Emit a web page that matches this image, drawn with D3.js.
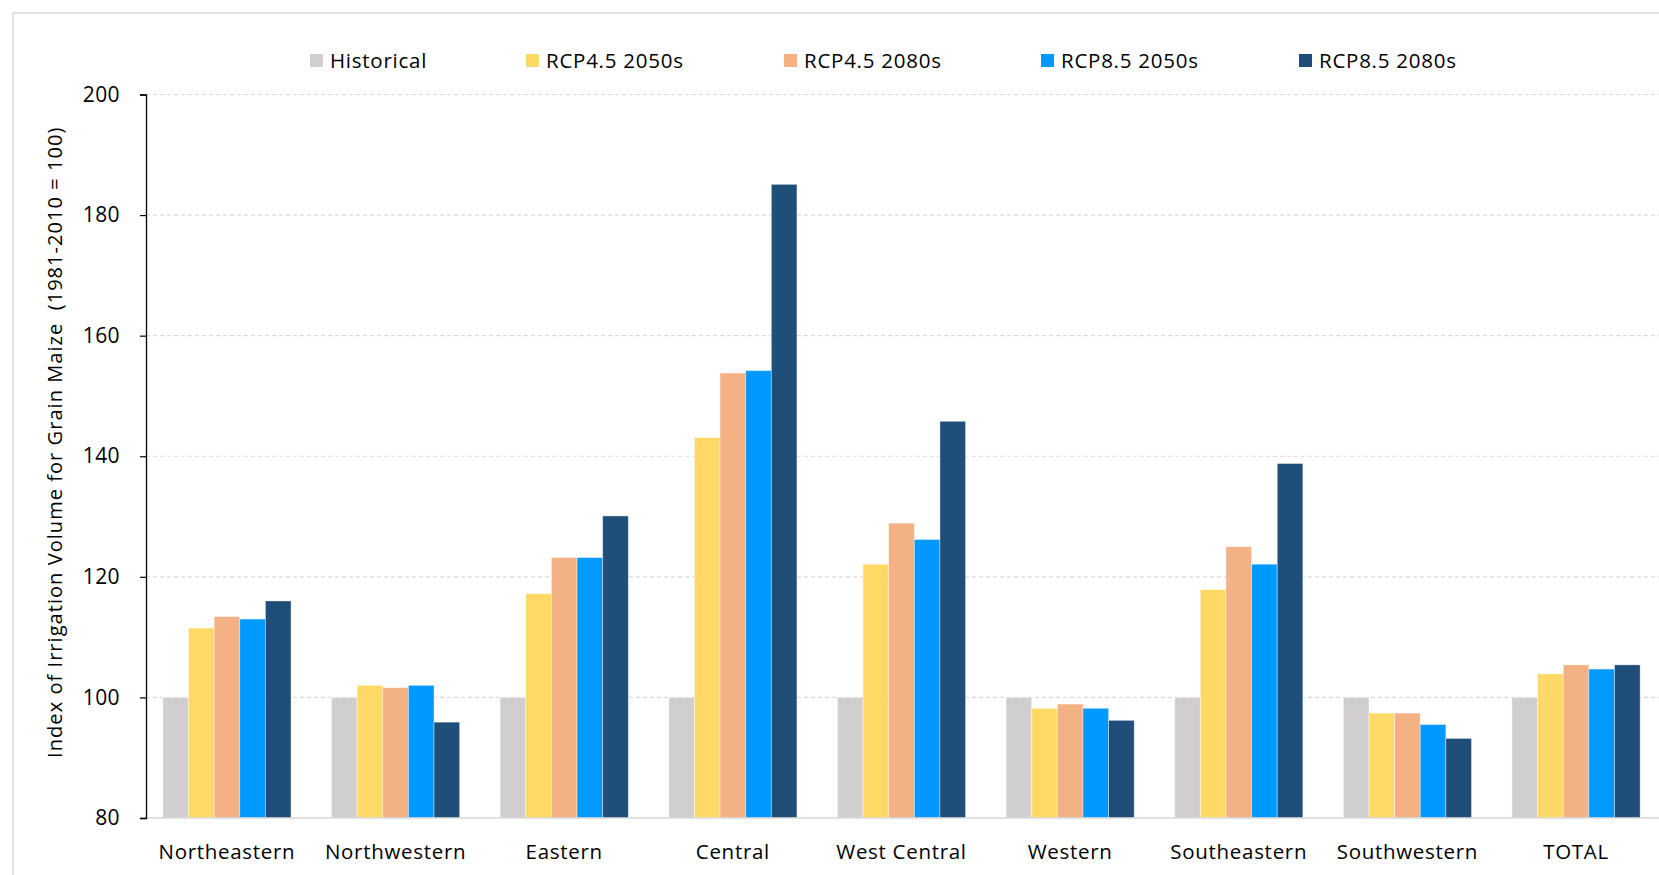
<!DOCTYPE html>
<html><head><meta charset="utf-8">
<script src="https://cdn.jsdelivr.net/npm/d3@7"></script>
<style>
html,body{margin:0;padding:0;background:#fff;}
svg{display:block;font-family:"Open Sans",Lato,sans-serif;}
</style></head>
<body><svg id="c" width="1659" height="875"></svg>
<script>
const categories = ["Northeastern","Northwestern","Eastern","Central","West Central","Western","Southeastern","Southwestern","TOTAL"];
const seriesNames = ["Historical","RCP4.5 2050s","RCP4.5 2080s","RCP8.5 2050s","RCP8.5 2080s"];
const seriesColors = ["#d0cece","#ffd966","#f4b183","#0099ff","#1f4e79"];
const historical = [100,100,100,100,100,100,100,100,100];
const rcp45_2050s = [111.5,102.0,117.2,143.1,122.1,98.2,117.9,97.4,103.9];
const rcp45_2080s = [113.4,101.6,123.2,153.8,128.9,98.9,125.0,97.4,105.4];
const rcp85_2050s = [113.0,102.0,123.2,154.2,126.2,98.2,122.1,95.5,104.7];
const rcp85_2080s = [116.0,95.9,130.1,185.1,145.8,96.2,138.8,93.2,105.4];
const yTicks = [80,100,120,140,160,180,200];
const yTitle = "Index of Irrigation Volume for Grain Maize  (1981-2010 = 100)";

const seriesValues = [historical, rcp45_2050s, rcp45_2080s, rcp85_2050s, rcp85_2080s];

const svg = d3.select("#c");
const mLeft = 146, mRight = 1657, mTop = 94.5, mBottom = 818;
const FONT = "'Open Sans',Lato,sans-serif";

// outer frame
svg.append("rect").attr("x",13).attr("y",13).attr("width",1700).attr("height",900)
  .attr("fill","none").attr("stroke","#d9d9d9").attr("stroke-width",1.5);

const x = d3.scaleBand().domain(categories).range([mLeft,mRight]).paddingInner(0.24).paddingOuter(0.1);
const xs = d3.scaleBand().domain(seriesNames).range([0,x.bandwidth()]).padding(0);
const y = d3.scaleLinear().domain([80,200]).range([mBottom,mTop]);

// gridlines
svg.append("g").selectAll("line").data(yTicks.filter(t=>t>80)).join("line")
  .attr("x1",mLeft).attr("x2",1659).attr("y1",d=>y(d)).attr("y2",d=>y(d))
  .attr("stroke","#d9d9d9").attr("stroke-width",1.2).attr("stroke-dasharray","4,3");

// bars
const g = svg.append("g");
seriesNames.forEach((s,si)=>{
  g.append("g").selectAll("rect").data(categories.map((c,i)=>({c,v:seriesValues[si][i]}))).join("rect")
    .attr("x",d=>x(d.c)+xs(s))
    .attr("width",xs.bandwidth())
    .attr("y",d=>y(d.v))
    .attr("height",d=>y(80)-y(d.v))
    .attr("fill",seriesColors[si])
    .attr("stroke","rgba(255,255,255,0.5)").attr("stroke-width",0.8);
});

// x axis baseline
svg.append("line").attr("x1",mLeft).attr("x2",1659).attr("y1",y(80)).attr("y2",y(80))
  .attr("stroke","#d9d9d9").attr("stroke-width",1.5);

// y axis
const yAxis = svg.append("g").attr("transform",`translate(${mLeft},0)`)
  .call(d3.axisLeft(y).tickValues(yTicks).tickSize(6).tickPadding(20));
yAxis.select(".domain").attr("stroke","#000").attr("stroke-width",1.3);
yAxis.selectAll(".tick line").attr("stroke","#000").attr("stroke-width",1.2);
yAxis.selectAll(".tick text").attr("font-size",21).attr("fill","#000")
  .attr("font-family",FONT).attr("letter-spacing","0.4px");

// x labels
svg.append("g").selectAll("text").data(categories).join("text")
  .attr("x",d=>x(d)+x.bandwidth()/2).attr("y",859)
  .attr("text-anchor","middle").attr("font-size",20.5).attr("letter-spacing","0.7px")
  .attr("fill","#000").text(d=>d);

// y title
svg.append("text").attr("transform",`translate(62,${(y(80)+y(200))/2 - 14}) rotate(-90)`)
  .attr("text-anchor","middle").attr("font-size",20).attr("letter-spacing","1.05px").attr("fill","#000")
  .style("white-space","pre").text(yTitle);

// legend
const legendX = [310,526,784,1041,1299];
const lg = svg.append("g");
seriesNames.forEach((s,i)=>{
  lg.append("rect").attr("x",legendX[i]).attr("y",54).attr("width",13).attr("height",13).attr("fill",seriesColors[i]);
  lg.append("text").attr("x",legendX[i]+20).attr("y",68).attr("font-size",20.5).attr("letter-spacing","0.75px")
    .attr("fill","#000").text(s);
});
</script></body></html>
